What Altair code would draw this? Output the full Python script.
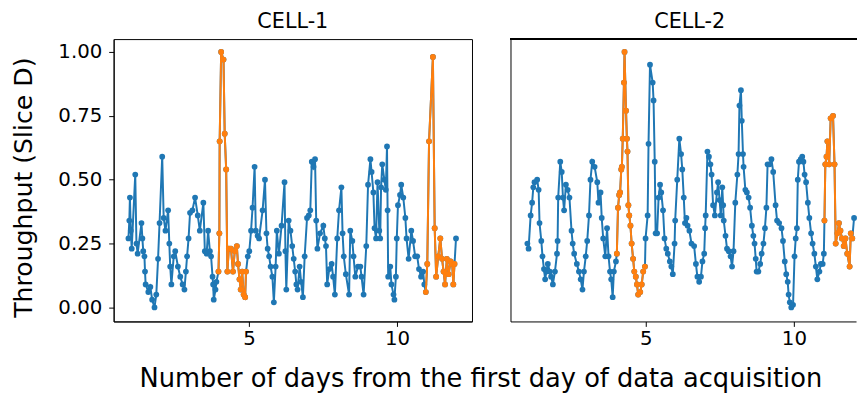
import altair as alt
import pandas as pd

# ---------------- data ----------------
c1_days = [0.93, 0.96, 0.98, 1.01, 1.04, 1.16, 1.20, 1.24, 1.37, 1.40, 1.43, 1.47, 1.49, 1.51,
           1.60, 1.67, 1.73, 1.81, 1.87, 1.93, 1.98, 2.07, 2.12, 2.18, 2.27, 2.31, 2.34, 2.38,
           2.46, 2.51, 2.60, 2.68, 2.76, 2.82, 2.87, 2.91, 2.96, 3.01, 3.09, 3.18, 3.27, 3.34,
           3.46, 3.51, 3.57, 3.62, 3.68, 3.72, 3.77, 3.79, 3.81, 3.87, 3.90, 3.97, 4.00, 4.01,
           4.06, 4.14, 4.18, 4.23, 4.27, 4.32, 4.39, 4.46, 4.52, 4.59, 4.63, 4.68, 4.72, 4.77,
           4.82, 4.87, 4.90, 4.96, 5.01, 5.07, 5.12, 5.19, 5.23, 5.29, 5.34, 5.46, 5.54, 5.59,
           5.63, 5.68, 5.73, 5.79, 5.84, 5.90, 5.94, 6.01, 6.10, 6.20, 6.23, 6.26, 6.34, 6.40,
           6.46, 6.51, 6.56, 6.60, 6.64, 6.71, 6.76, 6.82, 6.88, 6.96, 7.02, 7.07, 7.12, 7.18,
           7.23, 7.27, 7.31, 7.40, 7.51, 7.56, 7.60, 7.64, 7.71, 7.79, 7.84, 7.90, 7.98, 8.04,
           8.12, 8.16, 8.20, 8.27, 8.38, 8.42, 8.49, 8.53, 8.59, 8.68, 8.76, 8.80, 8.87, 8.96,
           9.02, 9.10, 9.14, 9.20, 9.24, 9.29, 9.34, 9.40, 9.43, 9.46, 9.50, 9.57, 9.62, 9.66,
           9.68, 9.70, 9.77, 9.81, 9.88, 9.91, 9.96, 9.99, 10.03, 10.10, 10.14, 10.21, 10.28,
           10.32, 10.39, 10.48, 10.54, 10.61, 10.68, 10.74, 10.81, 10.88, 10.92, 10.97, 11.02,
           11.08, 11.21, 11.27, 11.32, 11.39, 11.46, 11.52, 11.57, 11.62, 11.68, 11.74, 11.81,
           11.86, 11.90, 11.94, 11.99]
c1_vals = [0.27, 0.34, 0.43, 0.30, 0.23, 0.52, 0.25, 0.21, 0.33, 0.27, 0.22, 0.20, 0.14, 0.09,
           0.06, 0.08, 0.03, 0.00, 0.05, 0.19, 0.33, 0.59, 0.35, 0.30, 0.38, 0.25, 0.16, 0.09,
           0.20, 0.22, 0.16, 0.12, 0.09, 0.07, 0.14, 0.20, 0.27, 0.37, 0.38, 0.43, 0.36, 0.30,
           0.41, 0.22, 0.21, 0.30, 0.22, 0.20, 0.12, 0.09, 0.03, 0.07, 0.10, 0.14, 0.29, 0.65,
           1.00, 0.97, 0.68, 0.54, 0.14, 0.23, 0.23, 0.14, 0.22, 0.24, 0.17, 0.11, 0.07, 0.14,
           0.05, 0.04, 0.14, 0.20, 0.22, 0.30, 0.39, 0.55, 0.30, 0.28, 0.27, 0.38, 0.50, 0.29,
           0.23, 0.20, 0.16, 0.12, 0.02, 0.16, 0.30, 0.21, 0.32, 0.49, 0.22, 0.07, 0.34, 0.30,
           0.24, 0.19, 0.14, 0.09, 0.07, 0.16, 0.10, 0.04, 0.20, 0.35, 0.36, 0.38, 0.57, 0.55,
           0.58, 0.34, 0.23, 0.29, 0.32, 0.27, 0.24, 0.09, 0.15, 0.17, 0.12, 0.05, 0.27, 0.38,
           0.47, 0.29, 0.20, 0.13, 0.05, 0.30, 0.26, 0.20, 0.12, 0.16, 0.16, 0.12, 0.05, 0.24,
           0.48, 0.58, 0.53, 0.45, 0.31, 0.27, 0.49, 0.30, 0.27, 0.47, 0.56, 0.50, 0.46, 0.63,
           0.38, 0.12, 0.16, 0.09, 0.05, 0.03, 0.12, 0.27, 0.40, 0.44, 0.48, 0.43, 0.35,
           0.27, 0.19, 0.30, 0.26, 0.20, 0.20, 0.15, 0.12, 0.14, 0.09, 0.06, 0.17,
           0.65, 0.98, 0.31, 0.12, 0.20, 0.27, 0.19, 0.14, 0.09, 0.19, 0.13, 0.18,
           0.17, 0.09, 0.17, 0.27]
c1_anom = [(3.96, 4.91), (10.96, 11.95)]

c2_days = [1.00, 1.04, 1.11, 1.16, 1.20, 1.24, 1.33, 1.38, 1.41, 1.47, 1.51, 1.56, 1.60, 1.64,
           1.69, 1.76, 1.80, 1.86, 1.93, 2.00, 2.02, 2.04, 2.11, 2.16, 2.20, 2.24, 2.30, 2.36,
           2.42, 2.49, 2.53, 2.58, 2.67, 2.74, 2.80, 2.86, 2.91, 2.97, 3.02, 3.08, 3.13, 3.19,
           3.27, 3.36, 3.40, 3.47, 3.51, 3.56, 3.63, 3.69, 3.74, 3.79, 3.83, 3.88, 3.92, 3.99,
           4.02, 4.06, 4.10, 4.13, 4.17, 4.19, 4.22, 4.26, 4.28, 4.33, 4.36, 4.38, 4.41, 4.44,
           4.48, 4.52, 4.57, 4.61, 4.66, 4.70, 4.74, 4.81, 4.86, 4.91, 4.97, 4.99, 5.06, 5.09,
           5.14, 5.23, 5.26, 5.30, 5.33, 5.38, 5.43, 5.48, 5.52, 5.58, 5.63, 5.69, 5.74, 5.81,
           5.86, 5.91, 5.97, 5.99, 6.06, 6.13, 6.19, 6.23, 6.28, 6.32, 6.37, 6.41, 6.47, 6.54,
           6.63, 6.69, 6.74, 6.80, 6.86, 6.91, 6.97, 7.00, 7.02, 7.08, 7.13, 7.18, 7.22, 7.27,
           7.33, 7.40, 7.44, 7.49, 7.53, 7.58, 7.61, 7.63, 7.69, 7.74, 7.80, 7.86, 7.91, 7.96,
           8.02, 8.09, 8.13, 8.16, 8.21, 8.24, 8.28, 8.30, 8.36, 8.41, 8.47, 8.52, 8.58, 8.63,
           8.67, 8.71, 8.74, 8.80, 8.86, 8.91, 8.97, 9.02, 9.07, 9.11, 9.18, 9.24, 9.30, 9.38,
           9.43, 9.50, 9.58, 9.63, 9.69, 9.74, 9.79, 9.82, 9.86, 9.91, 9.97, 10.02, 10.06,
           10.10, 10.13, 10.17, 10.23, 10.28, 10.32, 10.36, 10.41, 10.47, 10.52, 10.58, 10.63,
           10.69, 10.74, 10.79, 10.86, 10.91, 10.97, 11.01, 11.03, 11.06, 11.10, 11.13, 11.19,
           11.24, 11.32, 11.37, 11.41, 11.47, 11.52, 11.57, 11.62, 11.68, 11.74, 11.80, 11.88,
           11.92, 11.97, 12.03]
c2_vals = [0.25, 0.23, 0.36, 0.41, 0.47, 0.49, 0.50, 0.46, 0.33, 0.26, 0.20, 0.15, 0.11, 0.14,
           0.17, 0.14, 0.12, 0.09, 0.14, 0.21, 0.26, 0.43, 0.57, 0.53, 0.43, 0.38, 0.48, 0.46,
           0.43, 0.30, 0.25, 0.21, 0.17, 0.14, 0.11, 0.07, 0.14, 0.20, 0.26, 0.36, 0.50, 0.57,
           0.55, 0.49, 0.41, 0.45, 0.35, 0.27, 0.20, 0.31, 0.20, 0.14, 0.11, 0.04, 0.14, 0.18,
           0.21, 0.39, 0.44, 0.45, 0.54, 0.55, 0.66, 0.88, 1.00, 0.77, 0.66, 0.61, 0.40, 0.36,
           0.32, 0.25, 0.19, 0.14, 0.12, 0.09, 0.05, 0.06, 0.09, 0.14, 0.16, 0.27, 0.36, 0.64,
           0.95, 0.88, 0.81, 0.57, 0.29, 0.29, 0.43, 0.48, 0.45, 0.38, 0.27, 0.23, 0.21, 0.18,
           0.16, 0.13, 0.25, 0.34, 0.50, 0.66, 0.60, 0.54, 0.43, 0.33, 0.35, 0.32, 0.30, 0.25,
           0.24, 0.17, 0.12, 0.10, 0.12, 0.18, 0.21, 0.31, 0.36, 0.61, 0.59, 0.56, 0.52, 0.40,
           0.36, 0.45, 0.49, 0.42, 0.36, 0.47, 0.40, 0.34, 0.28, 0.23, 0.22, 0.20, 0.16, 0.22,
           0.41, 0.52, 0.60, 0.79, 0.85, 0.73, 0.60, 0.55, 0.46, 0.45, 0.43, 0.39, 0.32, 0.28,
           0.25, 0.19, 0.14, 0.14, 0.17, 0.21, 0.25, 0.31, 0.39, 0.56, 0.56, 0.58, 0.53, 0.40,
           0.34, 0.33, 0.31, 0.26, 0.18, 0.13, 0.10, 0.05, 0.02, 0.00, 0.01, 0.20, 0.27,
           0.31, 0.50, 0.57, 0.58, 0.59, 0.57, 0.52, 0.49, 0.41, 0.35, 0.29, 0.25,
           0.21, 0.16, 0.11, 0.14, 0.17, 0.17, 0.21, 0.34, 0.56, 0.59, 0.65, 0.56,
           0.74, 0.75, 0.56, 0.25, 0.29, 0.33, 0.30, 0.27, 0.24, 0.27, 0.21, 0.16,
           0.29, 0.27, 0.35]
c2_anom = [(4.01, 4.98), (11.02, 11.98)]

cells = ["CELL-1", "CELL-2"]
x_ticks = [5, 10]
y_ticks = [0.0, 0.25, 0.5, 0.75, 1.0]
x_title = "Number of days from the first day of data acquisition"
y_title = "Throughput (Slice D)"

BLUE = "#1f77b4"
ORANGE = "#ff7f0e"
FONT = "DejaVu Sans"
PX_PER_DAY = 30.0
W1 = 363          # full panel width
W2 = 350          # second panel is cut by the right edge of the picture
H = 286
X0 = 0.43
YDOM = [-0.055, 1.05]


def make_df(days, vals, anom):
    rows = []
    for d, v in zip(days, vals):
        seg = -1
        for i, (a, b) in enumerate(anom):
            if a <= d <= b:
                seg = i
        rows.append({"day": d, "value": v, "seg": seg})
    return pd.DataFrame(rows)


def panel(df, title, first, width):
    base = alt.Chart(df)
    x = alt.X("day:Q",
              scale=alt.Scale(domain=[X0, X0 + width / PX_PER_DAY], nice=False, zero=False),
              axis=alt.Axis(values=x_ticks, title=None, grid=False, format="d"))
    if first:
        y = alt.Y("value:Q", scale=alt.Scale(domain=YDOM, nice=False),
                  axis=alt.Axis(values=y_ticks, format=".2f", title=y_title, grid=False,
                                titleY=150))
    else:
        y = alt.Y("value:Q", scale=alt.Scale(domain=YDOM, nice=False),
                  axis=alt.Axis(labels=False, ticks=False, title=None, grid=False, domain=True))
    bl = base.mark_line(color=BLUE, strokeWidth=2).encode(x=x, y=y)
    bp = base.mark_circle(color=BLUE, size=34, opacity=1).encode(x=x, y=y)
    ob = base.transform_filter("datum.seg >= 0")
    ol = ob.mark_line(color=ORANGE, strokeWidth=2).encode(x=x, y=y, detail="seg:N")
    op = ob.mark_circle(color=ORANGE, size=34, opacity=1).encode(x=x, y=y)
    layers = [bl, bp, ol, op]
    props = dict(width=width, height=H,
                 title=alt.TitleParams(title, fontSize=21, font=FONT, fontWeight="normal",
                                       color="black", offset=7,
                                       dx=0 if first else (W1 - width) / 2))
    if not first:
        # top edge of the frame (right edge is outside the picture)
        top = alt.Chart(df).mark_rule(color="black", strokeWidth=1).encode(
            y=alt.value(0), x=alt.value(0), x2=alt.value(width))
        layers.append(top)
        props["view"] = alt.ViewConfig(stroke="transparent")
    return alt.layer(*layers).properties(**props)


p1 = panel(make_df(c1_days, c1_vals, c1_anom), cells[0], True, W1)
p2 = panel(make_df(c2_days, c2_vals, c2_anom), cells[1], False, W2)

chart = alt.hconcat(p1, p2, spacing=37).properties(
    title=alt.TitleParams(x_title, orient="bottom", anchor="start", align="center",
                          dx=476, fontSize=26, font=FONT, fontWeight="normal",
                          color="black", offset=18),
    padding={"left": 2, "top": 0, "right": 0, "bottom": 0},
).configure_view(stroke="black", strokeWidth=1).configure_axis(
    labelFont=FONT, titleFont=FONT, labelFontSize=20, titleFontSize=25.5,
    labelColor="black", titleColor="black", titleFontWeight="normal",
    domainColor="black", tickColor="black", tickSize=5,
    domainWidth=1, tickWidth=1,
).configure_axisY(labelPadding=7, titlePadding=22).configure_axisX(labelPadding=2)

chart.save("out.html", embed_options={"renderer": "svg", "actions": False})
